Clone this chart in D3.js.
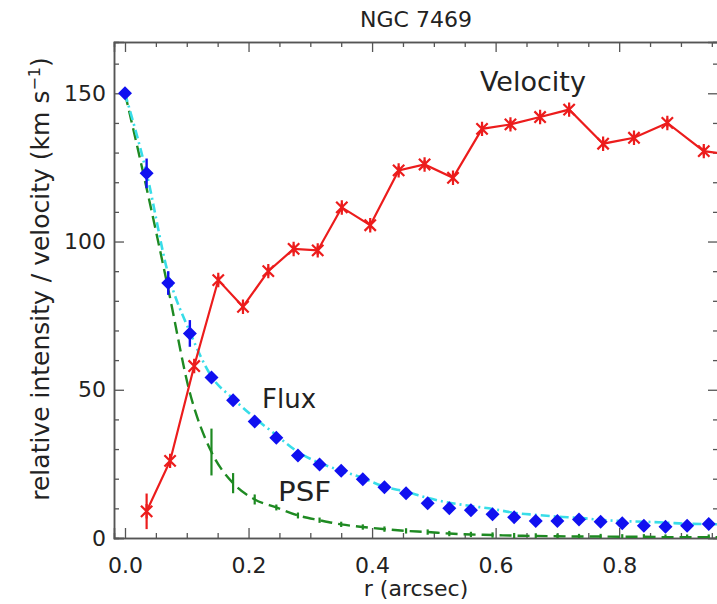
<!DOCTYPE html>
<html>
<head>
<meta charset="utf-8">
<script src="https://cdn.jsdelivr.net/npm/d3@7"></script>
<style>
  html, body { margin: 0; padding: 0; background: #fff; overflow: hidden; }
  text { font-family: "DejaVu Sans", "Liberation Sans", sans-serif; fill: #222; }
</style>
</head>
<body>
<div id="chart"></div>
<script>
// Radial bins (arcsec) for the flux profile and PSF
const radius = [0.000, 0.035, 0.070, 0.105, 0.140, 0.175, 0.210, 0.245, 0.280, 0.315,
                0.350, 0.385, 0.420, 0.455, 0.490, 0.525, 0.560, 0.595, 0.630, 0.665,
                0.700, 0.735, 0.770, 0.805, 0.840, 0.875, 0.910, 0.945];
// Measured relative flux and its uncertainty
const flux = [150.0, 123.0, 86.0, 69.0, 54.1, 46.5, 39.3, 33.8, 27.8, 24.8,
              22.7, 19.8, 17.1, 15.1, 11.7, 10.0, 9.4, 8.0, 7.0, 5.7,
              5.7, 6.2, 5.5, 5.0, 4.1, 3.8, 4.1, 4.7];
const fluxErr = [0, 5.0, 4.0, 4.5, 1.2, 1.0, 1.0, 1.0, 1.0, 1.0,
                 1.0, 1.0, 1.0, 1.0, 1.0, 1.0, 1.0, 1.0, 1.0, 1.0,
                 1.0, 1.0, 1.0, 1.0, 1.0, 1.0, 1.0, 1.0];
// Model fit to the flux profile (cyan dash-dot)
const modelRadius = [0.000, 0.035, 0.070, 0.105, 0.140, 0.175, 0.210, 0.245, 0.280, 0.315,
                     0.350, 0.385, 0.420, 0.455, 0.490, 0.525, 0.560, 0.595, 0.630, 0.665,
                     0.700, 0.735, 0.770, 0.805, 0.840, 0.875, 0.910, 0.945, 0.980];
const fluxModel = [150.0, 123.0, 89.0, 69.5, 54.5, 47.0, 40.5, 34.7, 29.0, 25.3,
                   22.7, 20.2, 17.3, 15.6, 13.5, 11.9, 10.8, 9.8, 8.5, 7.8,
                   7.2, 6.8, 6.1, 5.7, 5.5, 5.2, 4.8, 4.7, 4.5];
// Point-spread function profile (green dashed) and its uncertainty
const psf = [150.0, 118.0, 84.0, 49.0, 29.0, 18.5, 13.0, 10.3, 7.6, 6.0,
             4.6, 3.7, 3.0, 2.4, 2.0, 1.5, 1.2, 1.0, 0.8, 0.7,
             0.6, 0.5, 0.5, 0.4, 0.4, 0.3, 0.3, 0.3, 0.3];
const psfErr = [0, 0, 0, 0, 7.9, 3.4, 1.7, 1.0, 1.0, 0.9,
                0.9, 0.9, 0.9, 0.9, 0.9, 0.9, 0.9, 0.9, 0.9, 0.9,
                0.9, 0.9, 0.9, 0.9, 0.9, 0.9, 0.9, 0.9, 0.9];
// Rotation velocity (km/s)
const velRadius = [0.035, 0.073, 0.112, 0.151, 0.191, 0.232, 0.273, 0.312, 0.351, 0.397,
                   0.443, 0.485, 0.531, 0.578, 0.624, 0.672, 0.719, 0.774, 0.824, 0.878,
                   0.937, 0.990];
const velocity = [9.0, 26.0, 58.0, 87.0, 78.0, 90.0, 97.5, 97.0, 111.5, 105.5,
                  124.0, 126.0, 121.5, 138.0, 139.5, 142.0, 144.5, 133.0, 135.0, 140.0,
                  130.5, 129.0];
const velErr = [6.0, 1.5, 1.5, 1.5, 1.5, 1.5, 1.5, 1.5, 1.5, 1.5,
                1.5, 1.5, 1.5, 1.5, 1.5, 1.5, 1.5, 1.5, 1.5, 1.5,
                1.5, 1.5];

// Axis ticks
const xMajorTicks = [0.0, 0.2, 0.4, 0.6, 0.8];
const xMinorTicks = [0.05, 0.10, 0.15, 0.25, 0.30, 0.35, 0.45, 0.50, 0.55, 0.65, 0.70, 0.75, 0.85, 0.90, 0.95];
const yMajorTicks = [0, 50, 100, 150];
const yMinorTicks = [10, 20, 30, 40, 60, 70, 80, 90, 110, 120, 130, 140, 160];

const W = 717, H = 604;
const plot = { left: 114, right: 718, top: 42, bottom: 538 };

const svg = d3.select("#chart").append("svg")
  .attr("width", W).attr("height", H)
  .style("display", "block");

const x = d3.scaleLinear().domain([-0.0178, 0.96]).range([plot.left, plot.right]);
const y = d3.scaleLinear().domain([0, 167.3]).range([plot.bottom, plot.top]);

svg.append("defs").append("clipPath").attr("id", "plotClip")
  .append("rect")
  .attr("x", plot.left).attr("y", plot.top)
  .attr("width", plot.right - plot.left).attr("height", plot.bottom - plot.top);

const axisColor = "#555";
const majorLen = 10, minorLen = 5;

function styleAxis(g) {
  g.selectAll(".domain").attr("stroke", axisColor).attr("stroke-width", 1.5);
  g.selectAll(".tick line").attr("stroke", axisColor).attr("stroke-width", 1.3);
  g.selectAll(".tick text")
    .style("font-family", '"DejaVu Sans", sans-serif')
    .style("font-size", "22px")
    .attr("fill", "#222");
}

// Bottom axis
svg.append("g").attr("transform", `translate(0,${plot.bottom})`)
  .call(d3.axisBottom(x).tickValues(xMajorTicks).tickSize(-majorLen).tickPadding(19)
        .tickFormat(d3.format(".1f")))
  .call(styleAxis);
svg.append("g").attr("transform", `translate(0,${plot.bottom})`)
  .call(d3.axisBottom(x).tickValues(xMinorTicks).tickSize(-minorLen).tickFormat(""))
  .call(styleAxis);
// Top axis
svg.append("g").attr("transform", `translate(0,${plot.top})`)
  .call(d3.axisTop(x).tickValues(xMajorTicks).tickSize(-majorLen).tickFormat(""))
  .call(styleAxis);
svg.append("g").attr("transform", `translate(0,${plot.top})`)
  .call(d3.axisTop(x).tickValues(xMinorTicks).tickSize(-minorLen).tickFormat(""))
  .call(styleAxis);
// Left axis
svg.append("g").attr("transform", `translate(${plot.left},0)`)
  .call(d3.axisLeft(y).tickValues(yMajorTicks).tickSize(-majorLen).tickPadding(8))
  .call(styleAxis);
svg.append("g").attr("transform", `translate(${plot.left},0)`)
  .call(d3.axisLeft(y).tickValues(yMinorTicks).tickSize(-minorLen).tickFormat(""))
  .call(styleAxis);
// Right axis
svg.append("g").attr("transform", `translate(${plot.right},0)`)
  .call(d3.axisRight(y).tickValues(yMajorTicks).tickSize(-majorLen).tickFormat(""))
  .call(styleAxis);
svg.append("g").attr("transform", `translate(${plot.right},0)`)
  .call(d3.axisRight(y).tickValues(yMinorTicks).tickSize(-minorLen).tickFormat(""))
  .call(styleAxis);

const layer = svg.append("g").attr("clip-path", "url(#plotClip)");

// PSF profile
const psfColor = "#1e8a22";
layer.append("path")
  .datum(d3.range(psf.length))
  .attr("fill", "none").attr("stroke", psfColor).attr("stroke-width", 2.4)
  .attr("stroke-dasharray", "12,6")
  .attr("d", d3.line().x(i => x(modelRadius[i])).y(i => y(psf[i])).curve(d3.curveMonotoneX));
layer.append("g").selectAll("line")
  .data(d3.range(psf.length).filter(i => psfErr[i] > 0))
  .join("line")
  .attr("x1", i => x(modelRadius[i])).attr("x2", i => x(modelRadius[i]))
  .attr("y1", i => y(psf[i] - psfErr[i])).attr("y2", i => y(psf[i] + psfErr[i]))
  .attr("stroke", psfColor).attr("stroke-width", 2.2);

// Flux model
layer.append("path")
  .datum(d3.range(fluxModel.length))
  .attr("fill", "none").attr("stroke", "#38dde8").attr("stroke-width", 2.6)
  .attr("stroke-dasharray", "9,4,2,4")
  .attr("d", d3.line().x(i => x(modelRadius[i])).y(i => y(fluxModel[i])).curve(d3.curveMonotoneX));

// Velocity curve
const velColor = "#ec1c1c";
layer.append("path")
  .datum(d3.range(velocity.length))
  .attr("fill", "none").attr("stroke", velColor).attr("stroke-width", 2.2)
  .attr("d", d3.line().x(i => x(velRadius[i])).y(i => y(velocity[i])));
layer.append("g").selectAll("line")
  .data(d3.range(velocity.length))
  .join("line")
  .attr("x1", i => x(velRadius[i])).attr("x2", i => x(velRadius[i]))
  .attr("y1", i => y(velocity[i] - velErr[i])).attr("y2", i => y(velocity[i] + velErr[i]))
  .attr("stroke", velColor).attr("stroke-width", 2.2);
// Asterisk markers
const star = (s) => {
  const a = s * Math.cos(Math.PI / 4), b = s * Math.sin(Math.PI / 4);
  return `M${-a},${-b}L${a},${b}M${-a},${b}L${a},${-b}M0,${-s * 0.9}L0,${s * 0.9}`;
};
layer.append("g").selectAll("path")
  .data(d3.range(velocity.length))
  .join("path")
  .attr("transform", i => `translate(${x(velRadius[i])},${y(velocity[i])})`)
  .attr("d", star(8))
  .attr("fill", "none").attr("stroke", velColor).attr("stroke-width", 2.2);

// Flux points with error bars
const fluxColor = "#1010f0";
layer.append("g").selectAll("line")
  .data(d3.range(flux.length).filter(i => fluxErr[i] > 0))
  .join("line")
  .attr("x1", i => x(radius[i])).attr("x2", i => x(radius[i]))
  .attr("y1", i => y(flux[i] - fluxErr[i])).attr("y2", i => y(flux[i] + fluxErr[i]))
  .attr("stroke", fluxColor).attr("stroke-width", 2.4);
const dm = 7;
layer.append("g").selectAll("path")
  .data(d3.range(flux.length))
  .join("path")
  .attr("transform", i => `translate(${x(radius[i])},${y(flux[i])})`)
  .attr("d", `M0,${-dm}L${dm},0L0,${dm}L${-dm},0Z`)
  .attr("fill", fluxColor);

// In-plot labels
svg.append("text").attr("x", 480).attr("y", 91).style("font-size", "27px").text("Velocity");
svg.append("text").attr("x", 262).attr("y", 408).style("font-size", "26px").text("Flux");
svg.append("text").attr("x", 278).attr("y", 501).style("font-size", "27px")
  .attr("textLength", 53).attr("lengthAdjust", "spacingAndGlyphs").text("PSF");

// Title and axis titles
svg.append("text").attr("x", (plot.left + plot.right) / 2).attr("y", 27)
  .attr("text-anchor", "middle").style("font-size", "22px").text("NGC 7469");
svg.append("text").attr("x", (plot.left + plot.right) / 2).attr("y", 596)
  .attr("text-anchor", "middle").style("font-size", "22px").text("r (arcsec)");
const yl = svg.append("text")
  .attr("transform", "translate(49,279) rotate(-90)")
  .attr("text-anchor", "middle").style("font-size", "25px");
yl.append("tspan").text("relative intensity / velocity (km s");
yl.append("tspan").attr("baseline-shift", "super").style("font-size", "16px").text("\u22121");
yl.append("tspan").text(")");
</script>
</body>
</html>
